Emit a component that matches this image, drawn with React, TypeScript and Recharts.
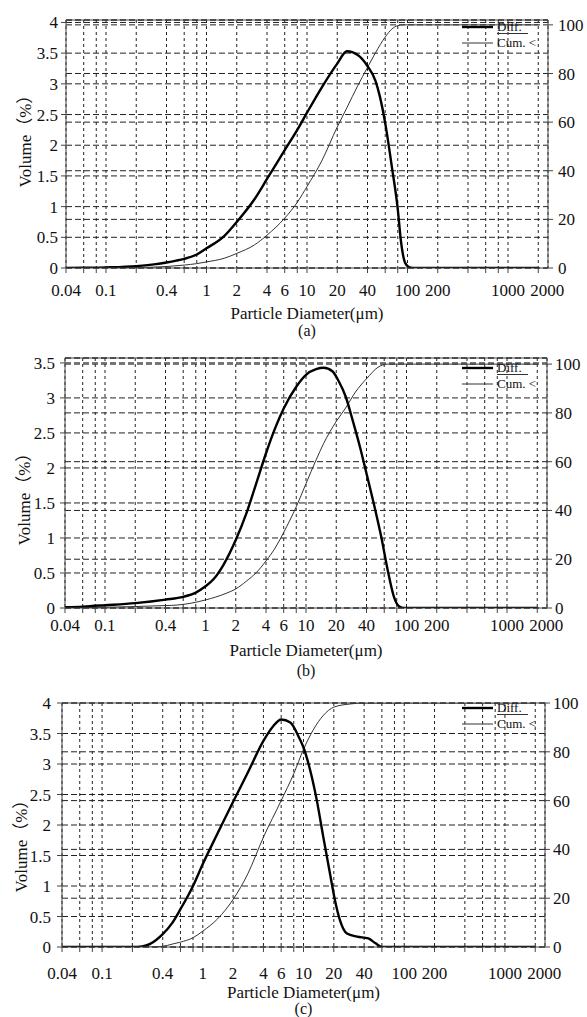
import React from 'react';
import { LineChart, Line, XAxis, YAxis, CartesianGrid, Legend, ReferenceLine } from 'recharts';

// ---------- shared axis definitions ----------
const gridTicks = [0.04, 0.06, 0.08, 0.1, 0.2, 0.4, 0.6, 0.8, 1, 2, 4, 6, 8, 10, 20, 40, 60, 80, 100, 200, 400, 600, 800, 1000, 2000];
const labelTicks = [0.04, 0.1, 0.4, 1, 2, 4, 6, 10, 20, 40, 100, 200, 1000, 2000];
const rightTicks = [0, 20, 40, 60, 80, 100];
const leftTicks4 = [0, 0.5, 1, 1.5, 2, 2.5, 3, 3.5, 4];
const leftTicks35 = [0, 0.5, 1, 1.5, 2, 2.5, 3, 3.5];

// ---------- (a) ----------
const diffA: [number, number][] = [
  [0.04, 0], [0.06, 0.004], [0.1, 0.01], [0.2, 0.03], [0.3, 0.06], [0.4, 0.09], [0.5, 0.12], [0.6, 0.15],
  [0.8, 0.22], [1, 0.32], [1.5, 0.52], [2, 0.75], [3, 1.12], [4, 1.45], [6, 1.92], [8, 2.25], [10, 2.53],
  [14, 2.94], [20, 3.33], [25, 3.53], [32, 3.47], [40, 3.29], [48, 3.05], [53, 2.8], [60, 2.36], [70, 1.64],
  [80, 0.96], [86, 0.44], [95, 0.08], [105, 0.01], [120, 0], [2000, 0],
];
const cumA: [number, number][] = [
  [0.04, 0], [0.1, 0.05], [0.2, 0.2], [0.4, 0.6], [0.6, 1.2], [0.8, 1.8], [1, 2.5], [1.5, 4], [2, 6], [3, 9.5],
  [4, 13.5], [6, 20.5], [8, 27], [10, 33.5], [14, 44], [20, 58], [25, 66], [32, 75], [40, 82.5], [48, 88.5],
  [60, 95], [70, 98.3], [80, 99.7], [90, 100], [2000, 100],
];

// ---------- (b) ----------
const diffB: [number, number][] = [
  [0.04, 0.01], [0.06, 0.02], [0.1, 0.04], [0.2, 0.07], [0.4, 0.12], [0.6, 0.16], [0.8, 0.22], [1, 0.31],
  [1.2, 0.41], [1.5, 0.61], [2, 0.97], [2.55, 1.35], [3.2, 1.78], [4, 2.21], [5, 2.59], [6, 2.85], [8, 3.16],
  [10, 3.33], [12.6, 3.41], [15, 3.43], [18.3, 3.38], [21.3, 3.23], [24.8, 3.02], [29, 2.69], [35, 2.26],
  [40, 1.92], [48, 1.45], [56, 1.02], [65, 0.54], [75, 0.16], [85, 0.02], [95, 0], [2000, 0],
];
const cumB: [number, number][] = [
  [0.04, 0], [0.1, 0.3], [0.2, 0.6], [0.4, 1.0], [0.52, 1.2], [1, 3.3], [1.6, 6], [2, 7.8], [2.55, 11],
  [3.2, 14.5], [4, 19.3], [5, 25], [6, 31], [8, 41.5], [10, 51], [12.6, 60.7], [15, 67.5], [20, 76.5],
  [24.8, 82], [31, 88.5], [40, 94], [52, 98.7], [65, 100], [2000, 100],
];

// ---------- (c) ----------
const diffC: [number, number][] = [
  [0.04, 0], [0.2, 0], [0.25, 0.01], [0.3, 0.05], [0.4, 0.21], [0.5, 0.4], [0.6, 0.62], [0.8, 1.0],
  [1, 1.36], [1.4, 1.86], [2, 2.38], [2.8, 2.86], [4, 3.38], [5, 3.62], [6, 3.73], [7.4, 3.68], [9, 3.44],
  [10, 3.27], [11.6, 2.91], [13.5, 2.42], [15.7, 1.81], [18.3, 1.21], [20.5, 0.77], [23, 0.44], [27, 0.22],
  [34, 0.17], [44, 0.14], [52, 0.06], [60, 0], [2000, 0],
];
const cumC: [number, number][] = [
  [0.04, 0], [0.3, 0], [0.4, 0.3], [0.5, 1.2], [0.6, 2], [0.8, 3.8], [1, 6.5], [1.4, 11.5], [2, 19.5],
  [2.8, 30], [4, 45], [6, 60], [8, 71], [10, 81], [12.5, 89], [15.8, 95], [20, 98.3], [29, 99.6], [40, 100],
  [2000, 100],
];

const toRows = (pairs: [number, number][]) => pairs.map(([d, v]) => ({ d, v }));

const SERIF = "Liberation Serif";
const AXIS = '#444';
const GRID = '#222';

type PanelProps = {
  top: number;
  height: number;
  margin: { top: number; right: number; bottom: number; left: number };
  leftMax: number;
  rightMax: number;
  leftTicks: number[];
  diff: [number, number][];
  cum: [number, number][];
  xTickMargin: number;
  yLeftTickMargin: number;
  yRightTickMargin: number;
  titleDy: number;
  letterDy: number;
  yTitleDy: number;
  letter: string;
  legendTop: number;
};

const LegendBox = () => (
  <div style={{ fontFamily: SERIF, fontSize: 13, color: '#111', lineHeight: '16px' }}>
    <div style={{ display: 'flex', alignItems: 'center', height: 16 }}>
      <svg width={31} height={16} style={{ display: 'block' }}>
        <line x1={0} x2={31} y1={8} y2={8} stroke="#000" strokeWidth={2.4} />
      </svg>
      <span style={{ marginLeft: 4, borderBottom: '1px solid #333', paddingRight: 6, lineHeight: '13px' }}>Diff.</span>
    </div>
    <div style={{ display: 'flex', alignItems: 'center', height: 16 }}>
      <svg width={31} height={16} style={{ display: 'block' }}>
        <line x1={0} x2={31} y1={8} y2={8} stroke="#333" strokeWidth={1} />
      </svg>
      <span style={{ marginLeft: 4 }}>Cum. &lt;</span>
    </div>
  </div>
);

const XTick = (props: any) => {
  const { x, y, payload } = props;
  const v = payload && payload.value;
  if (!labelTicks.includes(v)) return <g />;
  const shift = v === 2000 ? 9 : 0;
  return (
    <text x={x + shift} y={y} dy="0.71em" textAnchor="middle" fontFamily={SERIF} fontSize={17} fill="#111">
      {String(v)}
    </text>
  );
};

const Panel = (p: PanelProps) => {
  const XTitle = (props: any) => {
    const vb = props.viewBox || {};
    const cx = vb.x + vb.width / 2;
    return (
      <g>
        <text x={cx} y={vb.y + p.titleDy} textAnchor="middle" fontFamily={SERIF} fontSize={17} fill="#111">
          Particle Diameter(μm)
        </text>
        <text x={cx} y={vb.y + p.letterDy} textAnchor="middle" fontFamily={SERIF} fontSize={16} fill="#111">
          {p.letter}
        </text>
      </g>
    );
  };
  const YTitle = (props: any) => {
    const vb = props.viewBox || {};
    const x = vb.x + 5;
    const y = vb.y + vb.height / 2 + p.yTitleDy;
    return (
      <text
        x={x}
        y={y}
        transform={`rotate(-90 ${x} ${y})`}
        textAnchor="middle"
        fontFamily={`${SERIF}, Noto Sans CJK SC`}
        fontSize={17}
        fill="#111"
      >
        Volume（%）
      </text>
    );
  };
  const tickStyle = { fontFamily: SERIF, fontSize: 17, fill: '#111' };
  return (
    <div style={{ position: 'absolute', left: 0, top: p.top, width: 587, height: p.height }}>
      <LineChart width={587} height={p.height} margin={p.margin}>
        <CartesianGrid horizontal={false} stroke={GRID} strokeDasharray="3 3" />
        <CartesianGrid vertical={false} stroke={GRID} strokeDasharray="6 3" />
        <CartesianGrid vertical={false} yAxisId="right" stroke={GRID} strokeDasharray="6 3" />
        <XAxis
          dataKey="d"
          type="number"
          scale="log"
          domain={[0.04, 2500]}
          allowDataOverflow
          ticks={gridTicks}
          interval={0}
          tick={XTick}
          tickSize={5}
          tickMargin={p.xTickMargin}
          stroke={AXIS}
          height={30}
          label={{ content: XTitle }}
        />
        <YAxis
          type="number"
          domain={[0, p.leftMax]}
          ticks={p.leftTicks}
          interval={0}
          allowDataOverflow
          tick={tickStyle}
          tickSize={5}
          tickMargin={p.yLeftTickMargin}
          stroke={AXIS}
          width={40}
          label={{ content: YTitle }}
        />
        <YAxis
          yAxisId="right"
          orientation="right"
          type="number"
          domain={[0, p.rightMax]}
          ticks={rightTicks}
          interval={0}
          allowDataOverflow
          tick={tickStyle}
          tickSize={5}
          tickMargin={p.yRightTickMargin}
          stroke={AXIS}
          width={39}
        />
        <ReferenceLine y={p.leftMax} stroke={AXIS} strokeWidth={1} />
        <Line
          data={toRows(p.cum)}
          dataKey="v"
          yAxisId="right"
          type="monotone"
          stroke="#333"
          strokeWidth={1}
          dot={false}
          activeDot={false}
          isAnimationActive={false}
        />
        <Line
          data={toRows(p.diff)}
          dataKey="v"
          type="monotone"
          stroke="#000"
          strokeWidth={2.4}
          dot={false}
          activeDot={false}
          isAnimationActive={false}
        />
        <Legend
          layout="vertical"
          align="center"
          verticalAlign="middle"
          content={LegendBox}
          wrapperStyle={{ position: 'absolute', left: 462, top: p.legendTop, width: 90, height: 34 }}
        />
      </LineChart>
    </div>
  );
};

export default function App() {
  return (
    <div style={{ position: 'absolute', left: 0, top: 0, width: 587, height: 1017, background: '#fff' }}>
      <Panel
        top={0}
        height={340}
        margin={{ top: 20, right: 0, bottom: 42, left: 26 }}
        leftMax={4.04}
        rightMax={102}
        leftTicks={leftTicks4}
        diff={diffA}
        cum={cumA}
        xTickMargin={11}
        yLeftTickMargin={3}
        yRightTickMargin={5}
        titleDy={51}
        letterDy={68}
        yTitleDy={-7}
        letter="(a)"
        legendTop={19}
      />
      <Panel
        top={340}
        height={340}
        margin={{ top: 18, right: 1, bottom: 42, left: 25 }}
        leftMax={3.57}
        rightMax={102.5}
        leftTicks={leftTicks35}
        diff={diffB}
        cum={cumB}
        xTickMargin={6}
        yLeftTickMargin={5}
        yRightTickMargin={3}
        titleDy={48}
        letterDy={68}
        yTitleDy={12}
        letter="(b)"
        legendTop={20}
      />
      <Panel
        top={680}
        height={337}
        margin={{ top: 23, right: 3, bottom: 40, left: 22 }}
        leftMax={4}
        rightMax={100}
        leftTicks={leftTicks4}
        diff={diffC}
        cum={cumC}
        xTickMargin={15}
        yLeftTickMargin={6}
        yRightTickMargin={3}
        titleDy={51}
        letterDy={67}
        yTitleDy={17}
        letter="(c)"
        legendTop={20}
      />
    </div>
  );
}
